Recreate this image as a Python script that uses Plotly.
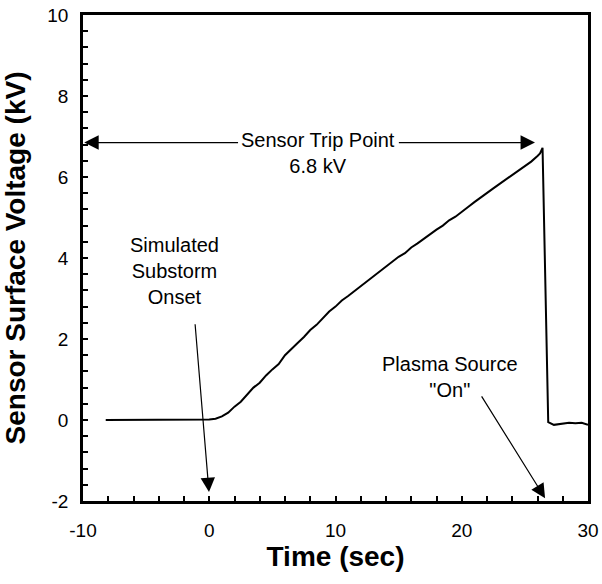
import plotly.graph_objects as go

# Data
time_s = [-8.2, -6, -4, -2, 0, 0.5, 1, 1.5, 2, 2.5, 3, 3.5, 4, 4.5, 5, 5.5, 6, 6.5,
          7, 7.5, 8, 8.5, 9, 9.5, 10, 10.5, 11, 11.5, 12, 12.5, 13, 13.5, 14, 14.5,
          15, 15.5, 16, 16.5, 17, 17.5, 18, 18.5, 19, 19.5, 20, 20.5, 21, 21.5, 22,
          22.5, 23, 23.5, 24, 24.5, 25, 25.5, 26, 26.2, 26.4, 26.85, 27.3, 28, 28.5,
          29, 29.5, 30]
voltage_kv = [0, 0, 0, 0, 0.01, 0.03, 0.09, 0.18, 0.33, 0.45, 0.62, 0.80, 0.92, 1.10,
              1.25, 1.38, 1.60, 1.76, 1.90, 2.05, 2.22, 2.35, 2.52, 2.68, 2.80, 2.95,
              3.06, 3.18, 3.30, 3.44, 3.56, 3.68, 3.80, 3.90, 4.03, 4.12, 4.26, 4.36,
              4.48, 4.60, 4.70, 4.80, 4.93, 5.02, 5.15, 5.26, 5.38, 5.50, 5.60, 5.72,
              5.83, 5.94, 6.06, 6.16, 6.28, 6.38, 6.52, 6.58, 6.72, -0.05, -0.12, -0.10,
              -0.07, -0.08, -0.07, -0.12]

x_ticks = [-10, 0, 10, 20, 30]
x_tick_labels = ["-10", "0", "10", "20", "30"]
y_ticks = [-2, 0, 2, 4, 6, 8, 10]
y_tick_labels = ["-2", "0", "2", "4", "6", "8", "10"]

trip_level = 6.85
FONT = "Liberation Sans, Arial, sans-serif"

fig = go.Figure()
fig.add_trace(go.Scatter(x=time_s, y=voltage_kv, mode="lines",
                         line=dict(color="black", width=2), showlegend=False,
                         hoverinfo="skip"))

arrow_common = dict(showarrow=True, arrowhead=2, arrowsize=2.4, arrowwidth=1.2,
                    arrowcolor="black", axref="x", ayref="y", text="")

annotations = [
    dict(x=-9.9, y=trip_level, ax=2.4, ay=trip_level, **arrow_common),
    dict(x=25.8, y=trip_level, ax=14.9, ay=trip_level, **arrow_common),
    dict(x=-0.02, y=-1.78, ax=-1.13, ay=2.40, **arrow_common),
    dict(x=26.6, y=-1.93, ax=21.5, ay=0.62, **arrow_common),
    dict(x=8.63, y=6.6, text="Sensor Trip Point<br>6.8 kV", showarrow=False,
         font=dict(size=20, color="black", family=FONT)),
    dict(x=-2.79, y=3.68, text="Simulated<br>Substorm<br>Onset", showarrow=False,
         font=dict(size=20, color="black", family=FONT)),
    dict(x=19.07, y=1.05, text="Plasma Source<br>\"On\"", showarrow=False,
         font=dict(size=20, color="black", family=FONT)),
]

fig.update_layout(
    width=602, height=584,
    margin=dict(l=83, r=14, t=15, b=83),
    plot_bgcolor="white", paper_bgcolor="white",
    font=dict(family=FONT, color="black", size=19),
    annotations=annotations,
    xaxis=dict(range=[-10, 30], tickvals=x_ticks, ticktext=x_tick_labels,
               ticks="inside", ticklen=5, automargin=False,
               tickwidth=1.5, tickcolor="black", showgrid=False, zeroline=False,
               showline=True, linecolor="black", linewidth=2.5, mirror=True,
               minor=dict(dtick=2, ticks="inside", ticklen=5, tickwidth=1.5,
                          tickcolor="black", showgrid=False),
               ticklabelstandoff=10, tickfont=dict(size=19),
               title=dict(text="<b>Time (sec)</b>", font=dict(size=28), standoff=0)),
    yaxis=dict(range=[-2, 10], tickvals=y_ticks, ticktext=y_tick_labels,
               ticks="inside", ticklen=5, automargin=False,
               tickwidth=1.5, tickcolor="black", showgrid=False, zeroline=False,
               showline=True, linecolor="black", linewidth=2.5, mirror=True,
               minor=dict(dtick=0.4, ticks="inside", ticklen=5, tickwidth=1.5,
                          tickcolor="black", showgrid=False),
               ticklabelstandoff=8, tickfont=dict(size=19),
               title=dict(text="<b>Sensor Surface Voltage (kV)</b>", font=dict(size=28),
                          standoff=15)),
)

# Remove the page's default body margin so the figure fills the window exactly.
fig.write_html("out.html",
               config={"displayModeBar": False},
               post_script="document.body.style.margin='0';"
                           "document.body.style.overflow='hidden';")
